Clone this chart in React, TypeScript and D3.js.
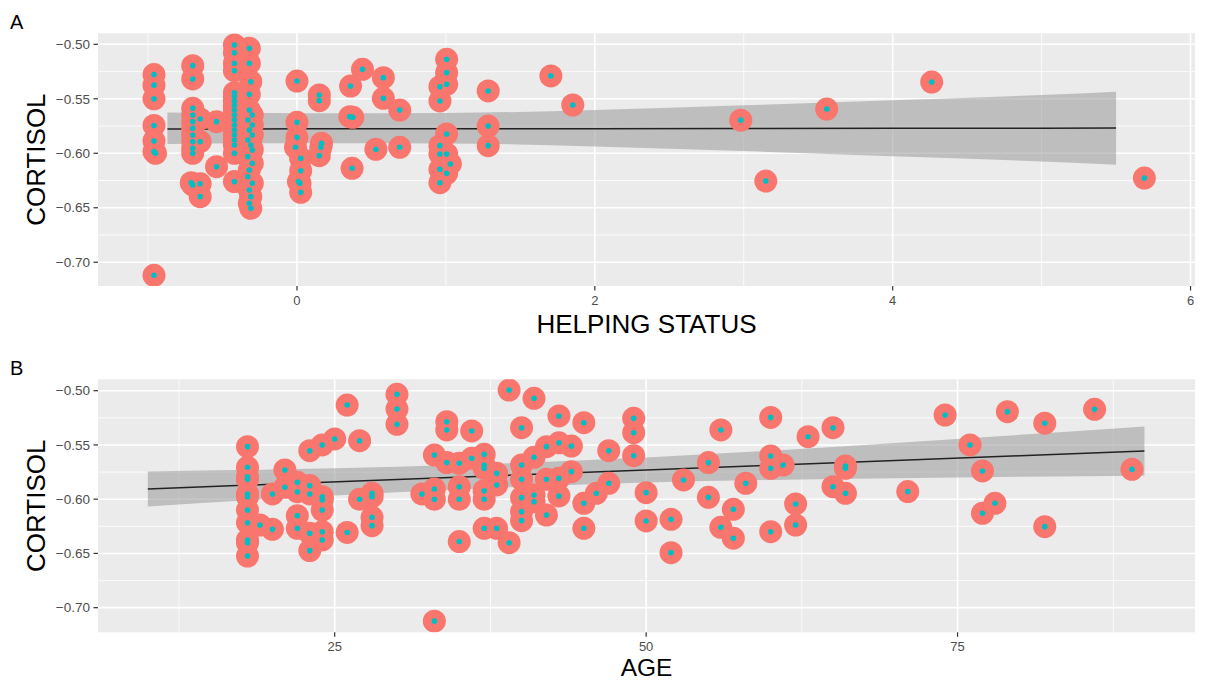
import React from 'react';
import * as d3 from 'd3';

// Panel A: helping status vs cortisol
const helpX = [
  -0.96, -0.96, -0.96, -0.96, -0.96, -0.96, -0.95, -0.96,
  -0.70, -0.70, -0.70, -0.70, -0.70, -0.70, -0.70, -0.70, -0.70, -0.70, -0.71, -0.70,
  -0.65, -0.65, -0.65, -0.65,
  -0.54, -0.54,
  -0.42, -0.42, -0.42, -0.42, -0.42, -0.42, -0.42, -0.42, -0.42, -0.42, -0.42, -0.42, -0.42, -0.42, -0.42, -0.42, -0.42, -0.42,
  -0.32, -0.32, -0.31, -0.32, -0.32, -0.30, -0.33, -0.30, -0.32, -0.30, -0.33, -0.31, -0.30, -0.33, -0.30, -0.32, -0.33, -0.30, -0.32, -0.31, -0.32, -0.31,
  0.0, 0.0, 0.0, -0.01, 0.025, 0.025, 0.01, 0.02, 0.025,
  0.15, 0.15, 0.165, 0.16, 0.15,
  0.36, 0.355, 0.375, 0.37,
  0.44, 0.53, 0.58, 0.58, 0.69, 0.69,
  1.005, 1.005, 1.005, 0.96, 0.96, 1.005, 0.96, 0.96, 1.005, 1.03, 0.96, 1.005, 0.96,
  1.284, 1.284, 1.284,
  1.705, 1.852, 2.98, 3.148, 3.557, 4.262, 5.69,
];
const helpCort = [
  -0.5278, -0.5375, -0.550, -0.5745, -0.5887, -0.5985, -0.6000, -0.7120,
  -0.5196, -0.5318, -0.5587, -0.5649, -0.5710, -0.5771, -0.5832, -0.5893, -0.5954, -0.6000, -0.627, -0.629,
  -0.5685, -0.5893, -0.628, -0.6398,
  -0.571, -0.6123,
  -0.5006, -0.5077, -0.5175, -0.5242, -0.5444, -0.548, -0.552, -0.556, -0.5603, -0.5649, -0.5695, -0.574, -0.5786, -0.5832, -0.5878, -0.5924, -0.600, -0.626,
  -0.5037, -0.5175, -0.5343, -0.5459, -0.5603, -0.5649, -0.5695, -0.574, -0.5786, -0.5832, -0.5878, -0.5924, -0.597, -0.6031, -0.6092, -0.6153, -0.6215, -0.6275, -0.6337, -0.6398, -0.6459, -0.6505,
  -0.5337, -0.5716, -0.5854, -0.5945, -0.6046, -0.616, -0.626, -0.6275, -0.6358,
  -0.5465, -0.5517, -0.5908, -0.5945, -0.6022,
  -0.5383, -0.5664, -0.567, -0.6138,
  -0.523, -0.5963, -0.5306, -0.5496, -0.5603, -0.5945,
  -0.5138, -0.526, -0.5367, -0.5389, -0.552, -0.5823, -0.593, -0.6006, -0.6006, -0.6098, -0.6147, -0.6184, -0.627,
  -0.5428, -0.575, -0.593,
  -0.529, -0.5557, -0.5696, -0.6255, -0.5594, -0.5346, -0.6227,
];
const helpFitX = [-0.87, 0, 1, 2, 3, 4, 5, 5.5];
const helpFit = [-0.5777, -0.5776, -0.5775, -0.5774, -0.5772, -0.5771, -0.5770, -0.5769];
const helpHi = [-0.5625, -0.5632, -0.5630, -0.5602, -0.5560, -0.5513, -0.5465, -0.5435];
const helpLo = [-0.5915, -0.5908, -0.5910, -0.5938, -0.5980, -0.6027, -0.6075, -0.6105];
const helpTicks = [0, 2, 4, 6];
const helpMinor = [-1, 1, 3, 5];

// Panel B: age vs cortisol
const ageX = [
  18, 18, 18, 18, 18, 18, 18, 18, 18, 18, 18,
  19, 20, 20, 21, 21, 22, 22, 22, 22,
  23, 23, 23, 23, 23, 24, 24, 24, 24, 24, 24,
  25, 26, 26, 27, 27, 28, 28, 28, 28,
  30, 30, 30, 32, 33, 33, 33, 33, 34, 34, 34,
  35, 35, 35, 35, 36, 36, 37, 37, 37, 37, 37, 37,
  38, 38, 38, 39, 39, 40, 40, 40, 40, 40, 40,
  41, 41, 41, 41, 42, 42, 42, 43, 43, 43, 43,
  44, 44, 45, 45, 45, 46, 47, 47, 49, 49, 49,
  50, 50, 52, 52, 53, 55, 55, 56, 56, 57, 57, 58,
  60, 60, 60, 60, 61, 62, 62, 63, 65, 65, 66, 66, 66,
  71, 74, 76, 77, 77, 78, 79, 82, 82, 86, 89,
];
const ageCort = [
  -0.5516, -0.5706, -0.5793, -0.5817, -0.5952, -0.5977, -0.6100, -0.6217, -0.6376, -0.6401, -0.6524,
  -0.6238, -0.5952, -0.6278, -0.5731, -0.589, -0.5845, -0.5931, -0.6152, -0.6268,
  -0.5553, -0.5875, -0.5952, -0.6315, -0.6474, -0.550, -0.5977, -0.6007, -0.610, -0.630, -0.6376,
  -0.5445, -0.5132, -0.6307, -0.5461, -0.6001, -0.5946, -0.5977, -0.6167, -0.6244,
  -0.5033, -0.5169, -0.531, -0.5952, -0.5593, -0.5906, -0.6001, -0.7124, -0.5286, -0.5362, -0.5663,
  -0.5669, -0.5885, -0.6001, -0.6391, -0.5371, -0.5623, -0.5586, -0.5685, -0.5716, -0.5922, -0.6001, -0.6268,
  -0.5762, -0.5869, -0.6268, -0.4994, -0.6401, -0.5341, -0.5685, -0.5817, -0.5986, -0.6115, -0.6198,
  -0.507, -0.5614, -0.5961, -0.6023, -0.5516, -0.5817, -0.6146, -0.5233, -0.548, -0.5807, -0.597,
  -0.551, -0.5746, -0.5295, -0.6038, -0.6268, -0.5946, -0.5553, -0.5854, -0.5255, -0.5387, -0.5599,
  -0.594, -0.6201, -0.6186, -0.6493, -0.5823, -0.5663, -0.5983, -0.5362, -0.6259, -0.6093, -0.636, -0.5854,
  -0.5246, -0.5602, -0.5716, -0.630, -0.5685, -0.6044, -0.6238, -0.5424, -0.5341, -0.5885, -0.5694, -0.5716, -0.5946,
  -0.593, -0.5224, -0.550, -0.574, -0.613, -0.6038, -0.5193, -0.530, -0.6253, -0.5172, -0.5725,
];
const ageFitX = [10, 20, 30, 40, 50, 60, 70, 80, 90];
const ageFit = [-0.5906, -0.5862, -0.5819, -0.5775, -0.5731, -0.5688, -0.5644, -0.5600, -0.5556];
const ageHi = [-0.5744, -0.5727, -0.5701, -0.5665, -0.5616, -0.5553, -0.5482, -0.5407, -0.5329];
const ageLo = [-0.6068, -0.5997, -0.5937, -0.5885, -0.5846, -0.5823, -0.5806, -0.5793, -0.5783];
const ageTicks = [25, 50, 75];
const ageMinor = [12.5, 37.5, 62.5, 87.5];

const cortTicks = [-0.5, -0.55, -0.6, -0.65, -0.7];
const cortMinor = [-0.525, -0.575, -0.625, -0.675];

const FONT = '"Liberation Sans", Arial, Helvetica, sans-serif';
const LEFT = 98;
const RIGHT = 1195;

type PanelProps = {
  letter: string;
  title: string;
  titleY: number;
  titleSize: number;
  top: number;
  bottom: number;
  xDomain: [number, number];
  yDomain: [number, number];
  xs: number[];
  ys: number[];
  fitX: number[];
  fit: number[];
  hi: number[];
  lo: number[];
  xTicks: number[];
  xMinor: number[];
};

const Panel = (p: PanelProps) => {
  const x = d3.scaleLinear().domain(p.xDomain).range([LEFT, RIGHT]);
  const y = d3.scaleLinear().domain(p.yDomain).range([p.bottom, p.top]);
  const idx = p.fitX.map((_, i) => i);
  const band = d3.area<number>()
    .x(i => x(p.fitX[i]))
    .y0(i => y(p.lo[i]))
    .y1(i => y(p.hi[i]))
    .curve(d3.curveMonotoneX)(idx);
  const line = d3.line<number>()
    .x(i => x(p.fitX[i]))
    .y(i => y(p.fit[i]))(idx);
  const pts = p.xs.map((v, i) => [x(v), y(p.ys[i])]);
  const clipId = 'clip' + p.letter;
  const midY = (p.top + p.bottom) / 2;

  return (
    <g>
      <defs>
        <clipPath id={clipId}>
          <rect x={LEFT} y={p.top} width={RIGHT - LEFT} height={p.bottom - p.top} />
        </clipPath>
      </defs>
      <rect x={LEFT} y={p.top} width={RIGHT - LEFT} height={p.bottom - p.top} fill="#EBEBEB" />
      {cortMinor.map(t => (
        <line key={'ym' + t} x1={LEFT} x2={RIGHT} y1={y(t)} y2={y(t)} stroke="#fff" strokeWidth={0.8} />
      ))}
      {p.xMinor.map(t => (
        <line key={'xm' + t} x1={x(t)} x2={x(t)} y1={p.top} y2={p.bottom} stroke="#fff" strokeWidth={0.8} />
      ))}
      {cortTicks.map(t => (
        <line key={'yM' + t} x1={LEFT} x2={RIGHT} y1={y(t)} y2={y(t)} stroke="#fff" strokeWidth={1.6} />
      ))}
      {p.xTicks.map(t => (
        <line key={'xM' + t} x1={x(t)} x2={x(t)} y1={p.top} y2={p.bottom} stroke="#fff" strokeWidth={1.6} />
      ))}
      <g clipPath={`url(#${clipId})`}>
        <path d={band || ''} fill="#999999" fillOpacity={0.55} />
        <path d={line || ''} fill="none" stroke="#222" strokeWidth={1.5} />
        {pts.map((d, i) => (
          <circle key={'c' + i} cx={d[0]} cy={d[1]} r={11.5} fill="#F8766D" />
        ))}
        {pts.map((d, i) => (
          <circle key={'d' + i} cx={d[0]} cy={d[1]} r={2.8} fill="#00BFC4" />
        ))}
      </g>
      {cortTicks.map(t => (
        <g key={'yt' + t}>
          <line x1={LEFT - 4.5} x2={LEFT} y1={y(t)} y2={y(t)} stroke="#333" strokeWidth={1.2} />
          <text x={LEFT - 8} y={y(t)} dy="0.35em" textAnchor="end" fontSize={13.5} fill="#4D4D4D" fontFamily={FONT}>
            {d3.format('.2f')(t)}
          </text>
        </g>
      ))}
      {p.xTicks.map(t => (
        <g key={'xt' + t}>
          <line x1={x(t)} x2={x(t)} y1={p.bottom} y2={p.bottom + 4.5} stroke="#333" strokeWidth={1.2} />
          <text x={x(t)} y={p.bottom + 19} textAnchor="middle" fontSize={13} fill="#4D4D4D" fontFamily={FONT}>
            {t}
          </text>
        </g>
      ))}
      <text x={(LEFT + RIGHT) / 2} y={p.titleY} textAnchor="middle" fontSize={p.titleSize} fill="#000" fontFamily={FONT}>
        {p.title}
      </text>
      <text transform={`translate(45,${midY}) rotate(-90)`} textAnchor="middle" fontSize={26} fill="#000" fontFamily={FONT}>
        CORTISOL
      </text>
      <text x={10} y={p.top - 4} fontSize={20} fill="#000" fontFamily={FONT}>
        {p.letter}
      </text>
    </g>
  );
};

export default function App() {
  return (
    <div style={{ position: 'absolute', left: 0, top: 0 }}>
      <svg width={1206} height={682} style={{ display: 'block', background: '#fff' }}>
        <Panel
          letter="A"
          title="HELPING STATUS"
          titleY={333}
          titleSize={26}
          top={33.3}
          bottom={286}
          xDomain={[-1.336, 6.03]}
          yDomain={[-0.7218, -0.4899]}
          xs={helpX}
          ys={helpCort}
          fitX={helpFitX}
          fit={helpFit}
          hi={helpHi}
          lo={helpLo}
          xTicks={helpTicks}
          xMinor={helpMinor}
        />
        <Panel
          letter="B"
          title="AGE"
          titleY={676}
          titleSize={24.5}
          top={379.3}
          bottom={632.3}
          xDomain={[6.0, 94.06]}
          yDomain={[-0.7227, -0.4895]}
          xs={ageX}
          ys={ageCort}
          fitX={ageFitX}
          fit={ageFit}
          hi={ageHi}
          lo={ageLo}
          xTicks={ageTicks}
          xMinor={ageMinor}
        />
      </svg>
    </div>
  );
}
